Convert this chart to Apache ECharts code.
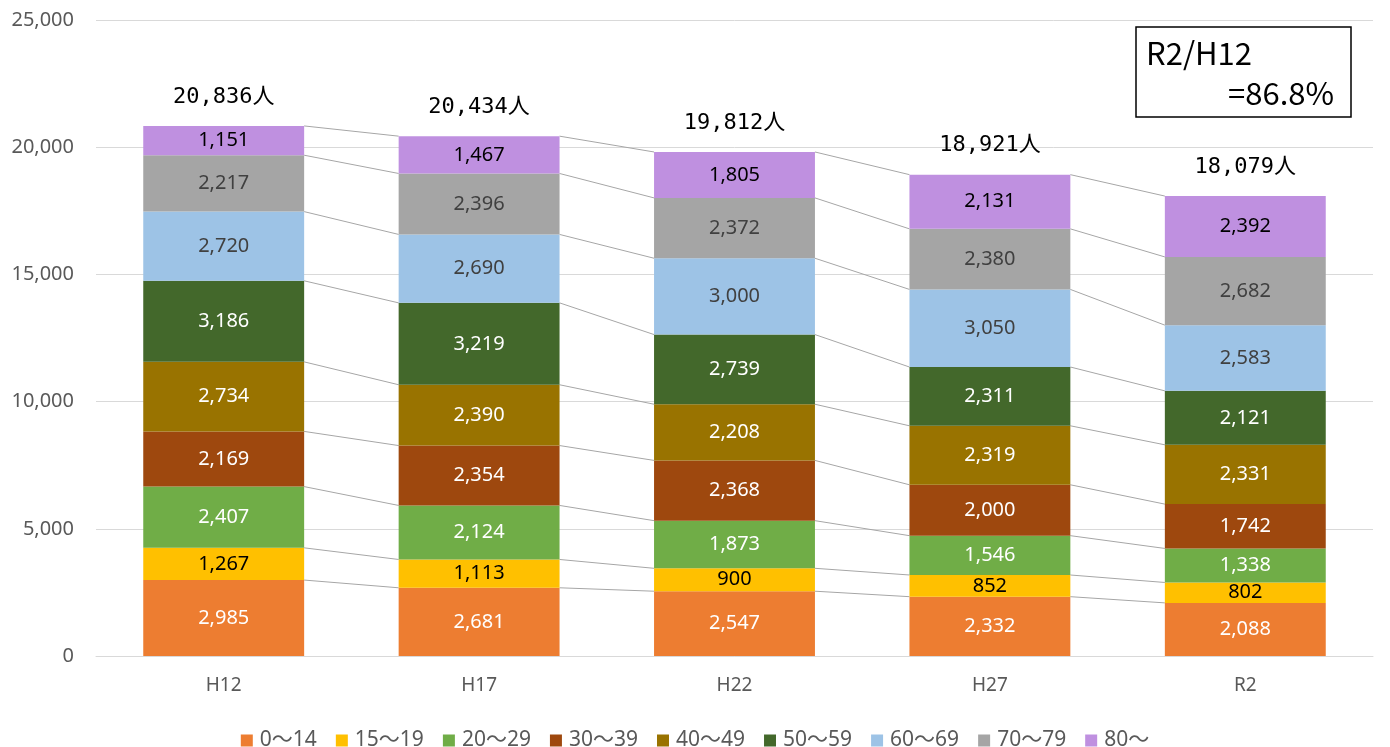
<!DOCTYPE html>
<html><head><meta charset="utf-8">
<script src="https://cdn.jsdelivr.net/npm/echarts@6/dist/echarts.min.js"></script>
<style>html,body{margin:0;padding:0;background:#fff}#c{width:1390px;height:747px}</style>
</head><body><div id="c"></div>
<script>
const categories = ['H12', 'H17', 'H22', 'H27', 'R2'];
const seriesNames = ['0～14', '15～19', '20～29', '30～39', '40～49', '50～59', '60～69', '70～79', '80～'];
const v0_14  = [2985, 2681, 2547, 2332, 2088];
const v15_19 = [1267, 1113, 900, 852, 802];
const v20_29 = [2407, 2124, 1873, 1546, 1338];
const v30_39 = [2169, 2354, 2368, 2000, 1742];
const v40_49 = [2734, 2390, 2208, 2319, 2331];
const v50_59 = [3186, 3219, 2739, 2311, 2121];
const v60_69 = [2720, 2690, 3000, 3050, 2583];
const v70_79 = [2217, 2396, 2372, 2380, 2682];
const v80    = [1151, 1467, 1805, 2131, 2392];
const yTicks = [0, 5000, 10000, 15000, 20000, 25000];
const ratioLine1 = 'R2/H12';
const ratioLine2 = '=86.8%';

const allValues = [v0_14, v15_19, v20_29, v30_39, v40_49, v50_59, v60_69, v70_79, v80];
const colors = ['#ED7D31', '#FFC000', '#70AD47', '#9E480E', '#997300', '#43682B', '#9DC3E6', '#A5A5A5', '#BF90E0'];
const labelColors = ['#fff', '#000', '#fff', '#fff', '#fff', '#fff', '#404040', '#404040', '#000'];
const BAR_FRAC = 0.63;

const cum = categories.map((c, i) => {
  let s = 0; return allValues.map(arr => (s += arr[i]));
});
const totals = cum.map(a => a[a.length - 1]);

const fmt = n => n.toLocaleString('en-US');
const font = '"Noto Sans", "Noto Sans CJK JP", sans-serif';

const barSeries = allValues.map((arr, k) => ({
  name: seriesNames[k], type: 'bar', stack: 'total', barWidth: (BAR_FRAC * 100) + '%',
  data: arr, itemStyle: { color: colors[k] },
  label: { show: true, position: 'inside', color: labelColors[k], fontSize: 20, fontFamily: font,
           formatter: p => fmt(p.value) },
  z: 2
}));

const linesSeries = {
  type: 'custom', name: 'serieslines', coordinateSystem: 'cartesian2d', silent: true, z: 1,
  data: categories.slice(0, -1).map((c, i) => [i, 0]),
  encode: { x: 0, y: 1 },
  renderItem: (params, api) => {
    const i = api.value(0);
    const bw = api.size([1, 0])[0] * BAR_FRAC;
    const children = cum[i].map((v, k) => {
      const a = api.coord([i, v]);
      const b = api.coord([i + 1, cum[i + 1][k]]);
      return { type: 'line', shape: { x1: a[0] + bw / 2, y1: a[1], x2: b[0] - bw / 2, y2: b[1] },
               style: { stroke: '#A6A6A6', lineWidth: 1 } };
    });
    return { type: 'group', children };
  }
};

const totalSeries = {
  type: 'custom', name: 'totals', coordinateSystem: 'cartesian2d', silent: true, z: 3,
  data: totals.map((t, i) => [i, t]),
  encode: { x: 0, y: 1 },
  renderItem: (params, api) => {
    const p = api.coord([api.value(0), api.value(1)]);
    return { type: 'text', x: p[0], y: p[1] - 29,
      style: { text: fmt(api.value(1)) + '人', fill: '#000', font: '22px "DejaVu Sans Mono", "Noto Sans CJK JP", monospace',
               textAlign: 'center', textVerticalAlign: 'middle' } };
  }
};

const chart = echarts.init(document.getElementById('c'));
chart.setOption({
  animation: false,
  grid: { left: 96, right: 17, top: 20, bottom: 91, containLabel: false },
  legend: { data: seriesNames, top: 725, left: 'center', itemWidth: 12, itemHeight: 12, itemGap: 19,
            icon: 'rect', textStyle: { color: '#595959', fontSize: 21, fontFamily: font, padding: [0, 0, 0, 2] } },
  xAxis: { type: 'category', data: categories,
           axisLine: { lineStyle: { color: '#D9D9D9' } }, axisTick: { show: false },
           axisLabel: { color: '#595959', fontSize: 19, fontFamily: font, margin: 20 } },
  yAxis: { type: 'value', min: yTicks[0], max: yTicks[yTicks.length - 1], interval: yTicks[1] - yTicks[0],
           axisLine: { show: false }, axisTick: { show: false },
           splitLine: { lineStyle: { color: '#D9D9D9' } },
           axisLabel: { color: '#595959', fontSize: 20, fontFamily: font, margin: 22, formatter: v => fmt(v) } },
  series: [...barSeries, linesSeries, totalSeries],
  graphic: [
    { type: 'rect', shape: { x: 1136, y: 27, width: 215, height: 90 },
      style: { fill: '#fff', stroke: '#000', lineWidth: 1.5 }, z: 10 },
    { type: 'text', x: 1146, y: 53, style: { text: ratioLine1, fill: '#000', font: '31px "Noto Sans CJK JP", sans-serif',
      textVerticalAlign: 'middle' }, z: 11 },
    { type: 'text', x: 1334, y: 93, style: { text: ratioLine2, fill: '#000', font: '31px "Noto Sans CJK JP", sans-serif',
      textAlign: 'right', textVerticalAlign: 'middle' }, z: 11 }
  ]
});
</script></body></html>
